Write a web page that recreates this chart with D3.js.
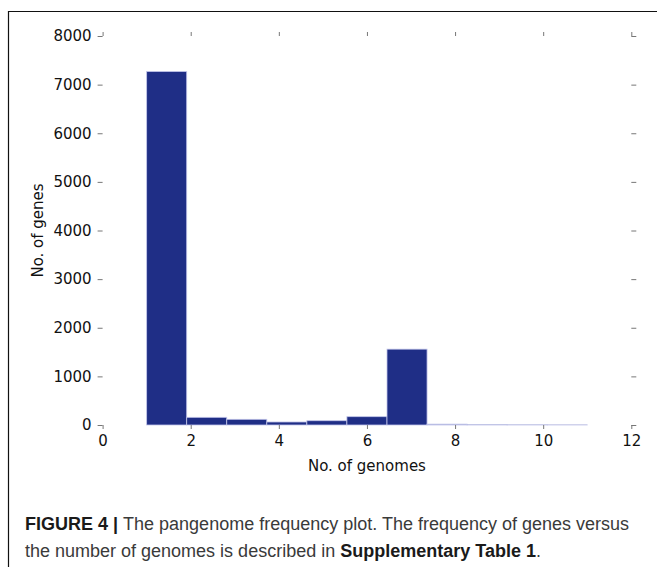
<!DOCTYPE html>
<html>
<head>
<meta charset="utf-8">
<script src="https://cdn.jsdelivr.net/npm/d3@7"></script>
<style>
  html, body { margin: 0; padding: 0; background: #fff; }
  svg { display: block; }
</style>
</head>
<body>
<script>
// Histogram bins: number of genomes a gene occurs in (11 equal bins from 1 to 11)
const binEdges = [1.000, 1.909, 2.818, 3.727, 4.636, 5.545, 6.455, 7.364, 8.273, 9.182, 10.091, 11.000];
const geneCounts = [7270, 158, 117, 62, 88, 171, 1560, 18, 6, 4, 3];
const xTicks = [0, 2, 4, 6, 8, 10, 12];
const yTicks = [0, 1000, 2000, 3000, 4000, 5000, 6000, 7000, 8000];

const W = 657, H = 567;
const svg = d3.select("body").append("svg").attr("width", W).attr("height", H);

// figure frame
svg.append("path")
  .attr("d", `M8.5,${H + 2} V11.5 H${W + 2}`)
  .attr("fill", "none").attr("stroke", "#111").attr("stroke-width", 1.2);

const x = d3.scaleLinear().domain([0, 12]).range([102.6, 631.3]);
const y = d3.scaleLinear().domain([0, 8000]).range([425, 36]);

const bins = geneCounts.map((c, i) => ({ x0: binEdges[i], x1: binEdges[i + 1], c }));

svg.append("g").selectAll("rect").data(bins).join("rect")
  .attr("x", d => x(d.x0))
  .attr("width", d => x(d.x1) - x(d.x0))
  .attr("y", d => y(d.c))
  .attr("height", d => y(0) - y(d.c))
  .attr("fill", "#1f2e86")
  .attr("stroke", "#c3c6ea")
  .attr("stroke-width", 0.8);

const tickColor = "#777";
const fontFam = "'DejaVu Sans', sans-serif";

function styleAxis(g, showLabels) {
  g.select(".domain").remove();
  g.selectAll(".tick line").attr("stroke", tickColor).attr("stroke-width", 1);
  g.selectAll(".tick text")
    .attr("fill", "#111")
    .style("font-family", fontFam)
    .style("font-size", "15px");
  if (!showLabels) g.selectAll(".tick text").remove();
}

svg.append("g").attr("transform", `translate(${x(0)},0)`)
  .call(d3.axisLeft(y).tickValues(yTicks).tickSize(5).tickSizeOuter(0).tickPadding(6).tickFormat(d3.format("d")))
  .call(g => styleAxis(g, true));

svg.append("g").attr("transform", `translate(${x(12)},0)`)
  .call(d3.axisRight(y).tickValues(yTicks).tickSize(5).tickSizeOuter(0))
  .call(g => styleAxis(g, false));

svg.append("g").attr("transform", `translate(0,${y(0)})`)
  .call(d3.axisBottom(x).tickValues(xTicks).tickSize(4).tickSizeOuter(0).tickPadding(6).tickFormat(d3.format("d")))
  .call(g => styleAxis(g, true));

svg.append("g").attr("transform", `translate(0,${y(8000)})`)
  .call(d3.axisTop(x).tickValues(xTicks).tickSize(4).tickSizeOuter(0))
  .call(g => styleAxis(g, false));

// axis titles
svg.append("text")
  .attr("x", (x(0) + x(12)) / 2).attr("y", 471)
  .attr("text-anchor", "middle")
  .style("font-family", fontFam).style("font-size", "15px").attr("fill", "#111")
  .text("No. of genomes");

svg.append("text")
  .attr("transform", `translate(43,${(y(0) + y(8000)) / 2}) rotate(-90)`)
  .attr("text-anchor", "middle")
  .style("font-family", fontFam).style("font-size", "15px").attr("fill", "#111")
  .text("No. of genes");

// caption
const capFont = "'Liberation Sans', Arial, sans-serif";
const cap1 = svg.append("text").attr("x", 25).attr("y", 530)
  .style("font-family", capFont).style("font-size", "18px").attr("fill", "#3a3a3a");
cap1.append("tspan").style("font-weight", "bold").attr("fill", "#1a1a1a").text("FIGURE 4 | ");
cap1.append("tspan").text("The pangenome frequency plot. The frequency of genes versus");

const cap2 = svg.append("text").attr("x", 25).attr("y", 557)
  .style("font-family", capFont).style("font-size", "18px").attr("fill", "#3a3a3a");
cap2.append("tspan").text("the number of genomes is described in ");
cap2.append("tspan").style("font-weight", "bold").attr("fill", "#1a1a1a").text("Supplementary Table 1");
cap2.append("tspan").text(".");
</script>
</body>
</html>
